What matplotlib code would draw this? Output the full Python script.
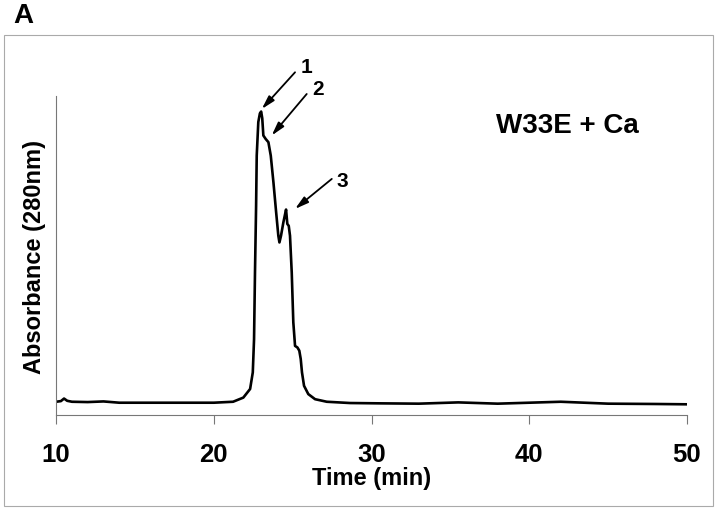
import matplotlib
matplotlib.use("Agg")
import matplotlib.pyplot as plt
from matplotlib.patches import Rectangle

plt.rcParams['font.family'] = ['Liberation Sans', 'DejaVu Sans']

# --------------------------------------------------------------
# Chromatogram trace, absorbance in arbitrary units
# --------------------------------------------------------------
time_min = [10.0, 10.3, 10.5, 10.7, 11.0, 12.0, 13.0, 14.0, 16.0, 18.0,
            20.0, 21.22, 21.87, 22.30, 22.47, 22.55, 22.61, 22.68, 22.72, 22.82,
            22.92, 23.0, 23.07, 23.14, 23.29, 23.46, 23.61, 23.78, 23.95, 24.09,
            24.16, 24.26, 24.41, 24.52, 24.58, 24.66, 24.75, 24.83, 24.94, 25.04,
            25.15, 25.30, 25.42, 25.51, 25.59, 25.72, 25.99, 26.42, 27.16, 28.64,
            30.54, 33.0, 35.5, 38.0, 42.0, 45.0, 48.0, 50.0]
absorbance = [0.042, 0.044, 0.052, 0.045, 0.042, 0.041, 0.043, 0.039, 0.039, 0.039,
              0.039, 0.042, 0.055, 0.082, 0.134, 0.238, 0.448, 0.655, 0.813, 0.918,
              0.945, 0.951, 0.930, 0.876, 0.865, 0.855, 0.813, 0.729, 0.636, 0.562,
              0.541, 0.562, 0.604, 0.630, 0.644, 0.599, 0.593, 0.562, 0.447, 0.291,
              0.217, 0.212, 0.202, 0.176, 0.134, 0.092, 0.066, 0.050, 0.042, 0.038,
              0.037, 0.036, 0.040, 0.036, 0.042, 0.036, 0.035, 0.034]

x_ticks = [10, 20, 30, 40, 50]

# peak markers: label, arrow head (time, abs), arrow tail, label position
peak_labels = ["1", "2", "3"]
arrow_heads = [(23.04, 0.959), (23.67, 0.876), (25.15, 0.646)]
arrow_tails = [(25.15, 1.074), (25.89, 1.006), (27.48, 0.740)]
label_pos = [(25.85, 1.091), (26.61, 1.022), (28.13, 0.734)]

# --------------------------------------------------------------
# Plot
# --------------------------------------------------------------
fig = plt.figure(figsize=(7.2, 5.1), dpi=100)
ax = fig.add_axes([0.078, 0.184, 0.876, 0.626])

ax.plot(time_min, absorbance, color="black", linewidth=1.9,
        solid_joinstyle="round")

ax.set_xlim(10, 50)
ax.set_ylim(0, 1)
ax.set_xticks(x_ticks)
ax.set_yticks([])
ax.tick_params(axis="x", direction="out", length=6.5, width=0.8,
               color="#777777", pad=13, labelsize=18.5)
for lab in ax.get_xticklabels():
    lab.set_fontweight("bold")

for side in ["top", "right"]:
    ax.spines[side].set_visible(False)
for side in ["left", "bottom"]:
    ax.spines[side].set_color("#777777")
    ax.spines[side].set_linewidth(0.8)

ax.set_xlabel("Time (min)", fontsize=17, fontweight="bold", labelpad=0)
ax.set_ylabel("Absorbance (280nm)", fontsize=17, fontweight="bold", labelpad=7)

for lab, head, tail, pos in zip(peak_labels, arrow_heads, arrow_tails, label_pos):
    ax.annotate("", xy=head, xytext=tail, annotation_clip=False,
                arrowprops=dict(arrowstyle="-|>,head_length=0.8,head_width=0.22",
                                color="black", lw=1.3, shrinkA=0, shrinkB=0))
    ax.text(pos[0], pos[1], lab, fontsize=15, fontweight="bold",
            ha="center", va="center", clip_on=False)

ax.text(0.81, 0.91, "W33E + Ca", transform=ax.transAxes, fontsize=20,
        fontweight="bold", ha="center", va="center")

# panel letter and outer frame
fig.text(0.018, 0.995, "A", fontsize=20, fontweight="bold", ha="left", va="top")
fig.patches.append(Rectangle((4 / 720, 3 / 510), 709 / 720, 471 / 510,
                             transform=fig.transFigure, fill=False,
                             edgecolor="#aaaaaa", linewidth=0.8))

fig.savefig("out.png", dpi=100)
